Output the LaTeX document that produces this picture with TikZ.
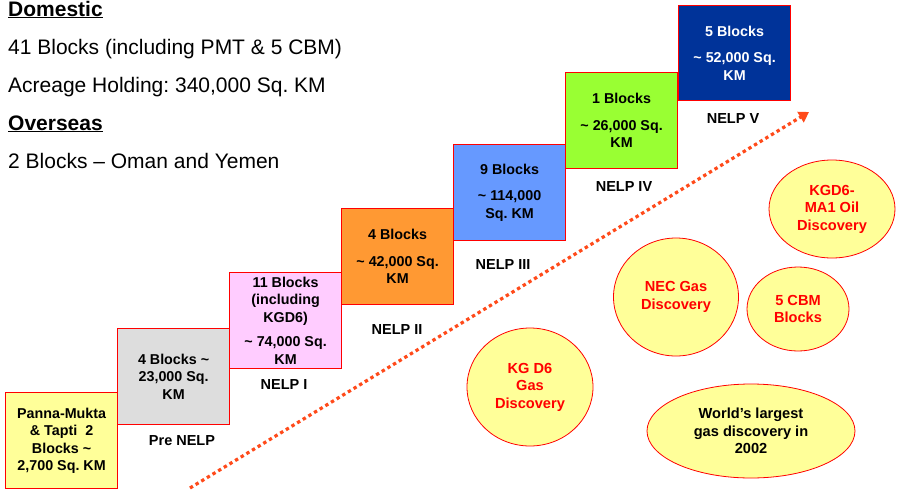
\documentclass[tikz,border=0pt]{standalone}
\usepackage{fontspec}
\setmainfont{Liberation Sans}
\frenchspacing
\usetikzlibrary{arrows.meta,shapes.geometric}
\definecolor{byellow}{HTML}{FFFF99}
\definecolor{bgray}{HTML}{DDDDDD}
\definecolor{bpink}{HTML}{FFCCFF}
\definecolor{borange}{HTML}{FF9933}
\definecolor{bblue}{HTML}{6699FF}
\definecolor{bgreen}{HTML}{99FF33}
\definecolor{bdark}{HTML}{003399}
\definecolor{bred}{HTML}{FF0000}
\definecolor{arrowred}{HTML}{FF4A1A}
\tikzset{
  blk/.style={draw=bred, line width=1.2pt, minimum width=112pt, minimum height=96pt, inner sep=0pt,
    anchor=north west, align=center, font=\bfseries\fontsize{14.3}{17.5}\selectfont},
  phase/.style={font=\bfseries\fontsize{14.5}{17}\selectfont},
  disc/.style={ellipse, draw=bred, line width=0.8pt, fill=byellow, inner sep=0pt, align=center,
    text=bred, font=\bfseries\fontsize{14.6}{17.5}\selectfont},
  hdr/.style={anchor=base west, inner sep=0pt, font=\fontsize{21}{24}\selectfont}
}
\begin{document}
\begin{tikzpicture}[x=1pt,y=-1pt]
\useasboundingbox (0,0) rectangle (899,490);
% heading text
\node[hdr] (h1) at (8,16) {\bfseries\underline{Domestic}};
\node[hdr] (h2) at (8,54) {41 Blocks (including PMT \& 5 CBM)};
\node[hdr] (h3) at (8,92) {Acreage Holding: 340,000 Sq. KM};
\node[hdr] (h4) at (8,130) {\bfseries\underline{Overseas}};
\node[hdr] (h5) at (8,168) {2 Blocks -- Oman and Yemen};
% blocks
\node[blk, fill=byellow] (b1) at (5,392) {Panna-Mukta\\\& Tapti~~2\\Blocks \textasciitilde\\2,700 Sq. KM};
\node[blk, fill=bgray] (b2) at (117,328) {4 Blocks \textasciitilde\\23,000 Sq.\\KM};
\node[blk, fill=bpink] (b3) at (229,272) {11 Blocks\\(including\\KGD6)\\[7pt]\textasciitilde{} 74,000 Sq.\\KM};
\node[blk, fill=borange] (b4) at (341,208) {4 Blocks\\[9pt]\textasciitilde{} 42,000 Sq.\\KM};
\node[blk, fill=bblue] (b5) at (453,144) {9 Blocks\\[9pt]\textasciitilde{} 114,000\\Sq. KM};
\node[blk, fill=bgreen] (b6) at (565,72) {1 Blocks\\[9pt]\textasciitilde{} 26,000 Sq.\\KM};
\node[blk, fill=bdark, text=white, minimum height=95pt] (b7) at (678,5) {5 Blocks\\[9pt]\textasciitilde{} 52,000 Sq.\\KM};
% phase labels
\node[phase] (p0) at (182,441) {Pre NELP};
\node[phase] (p1) at (284,385) {NELP I};
\node[phase] (p2) at (397,330) {NELP II};
\node[phase] (p3) at (503,265) {NELP III};
\node[phase] (p4) at (624,187) {NELP IV};
\node[phase] (p5) at (733,119) {NELP V};
% dotted arrow
\coordinate (as) at (190,488);
\coordinate (ae) at (809,112);
\draw[arrowred, line width=3.2pt, dash pattern=on 3.4pt off 3.2pt, -{Triangle[length=10pt,width=12pt]}] (as) -- (ae);
% discoveries
\node[disc, minimum width=126pt, minimum height=98pt] (e1) at (832,209) {KGD6-\\MA1 Oil\\Discovery};
\node[disc, minimum width=125pt, minimum height=118pt] (e2) at (676,297) {NEC Gas\\Discovery};
\node[disc, minimum width=102pt, minimum height=84pt] (e3) at (798,309) {5 CBM\\Blocks};
\node[disc, minimum width=126pt, minimum height=118pt] (e4) at (530,387) {KG D6\\Gas\\Discovery};
\node[disc, minimum width=208pt, minimum height=94pt, text=black] (e5) at (751,431) {World’s largest\\gas discovery in\\2002};
\end{tikzpicture}
\end{document}
